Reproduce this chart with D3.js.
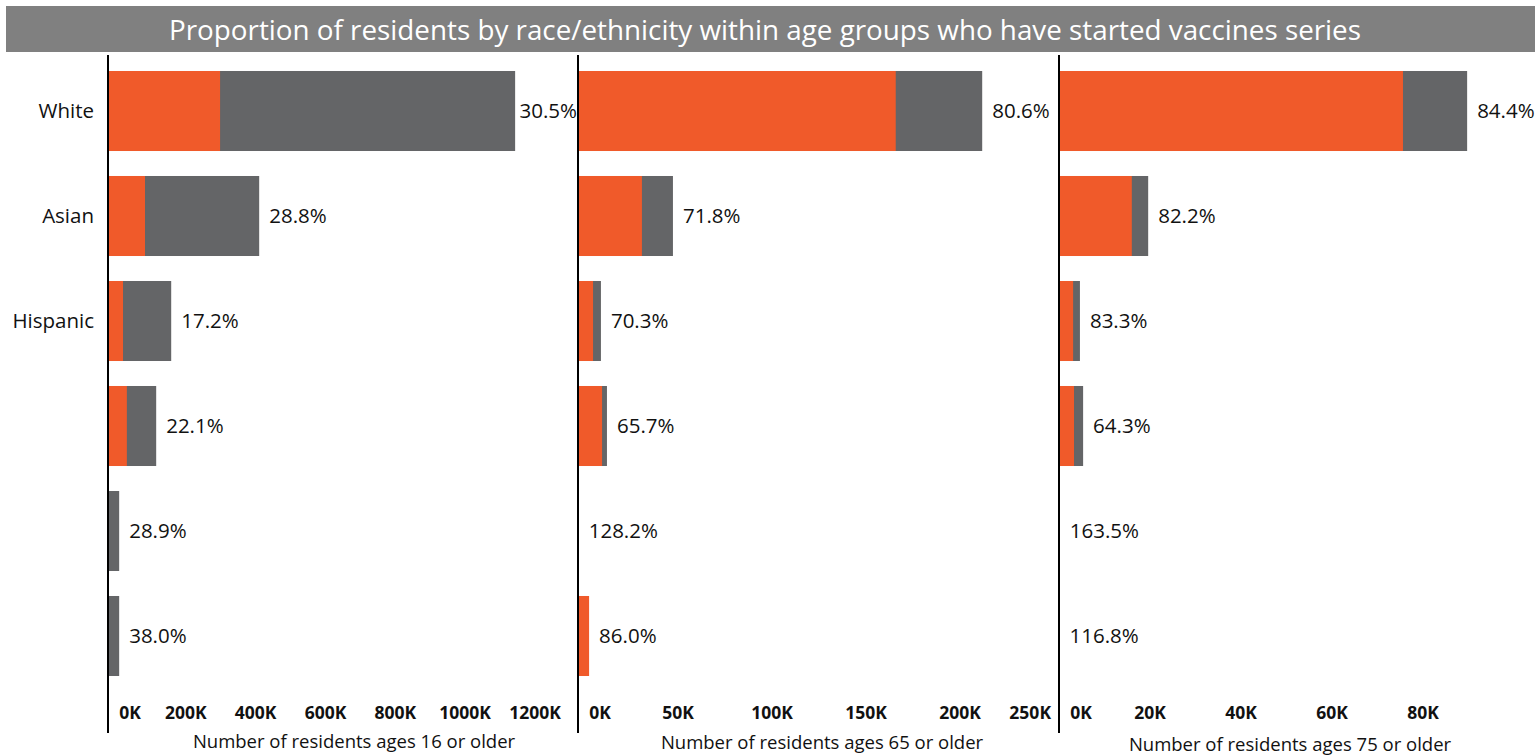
<!DOCTYPE html>
<html>
<head>
<meta charset="utf-8">
<script src="https://cdn.jsdelivr.net/npm/d3@7"></script>
<style>
  html, body { margin: 0; padding: 0; background: #fff; }
  svg { display: block; font-family: "Open Sans", Lato, sans-serif; }
</style>
</head>
<body>
<svg id="chart" width="1540" height="756"></svg>
<script>
// ---- data ----
const title = "Proportion of residents by race/ethnicity within age groups who have started vaccines series";
const categories = ["White", "Asian", "Hispanic", "", "", ""];

const panelTitles = [
  "Number of residents ages 16 or older",
  "Number of residents ages 65 or older",
  "Number of residents ages 75 or older"
];

// total residents (grey bars)
const total16 = [1166000, 433000, 181000, 138000, 32000, 32000];
const total65 = [215000, 50500, 12200, 15400, 300, 5000];
const total75 = [89700, 19600, 4600, 5300, 100, 100];

// residents who started the vaccine series (orange bars)
const started16 = [321000, 106000, 43000, 54000, 0, 0];
const started65 = [169000, 34000, 8000, 12800, 380, 5900];
const started75 = [75600, 16000, 3100, 3300, 160, 110];

// percentage labels
const pct16 = ["30.5%", "28.8%", "17.2%", "22.1%", "28.9%", "38.0%"];
const pct65 = ["80.6%", "71.8%", "70.3%", "65.7%", "128.2%", "86.0%"];
const pct75 = ["84.4%", "82.2%", "83.3%", "64.3%", "163.5%", "116.8%"];

// x-axis ticks
const ticks16 = [0, 200000, 400000, 600000, 800000, 1000000, 1200000];
const ticks65 = [0, 50000, 100000, 150000, 200000, 250000];
const ticks75 = [0, 20000, 40000, 60000, 80000];

const domains = [[0, 1200000], [0, 250000], [0, 100000]];

// ---- layout ----
const svg = d3.select("#chart");
const orange = "#F05A2A";
const grey = "#646567";

const panels = [
  {x0: 108, x1: 527,  tot: total16, st: started16, pct: pct16, ticks: ticks16, dom: domains[0], name: panelTitles[0], tdx: 8, next: 578, titleX: 354, titleY: 748},
  {x0: 578, x1: 1048, tot: total65, st: started65, pct: pct65, ticks: ticks65, dom: domains[1], name: panelTitles[1], tdx: 6, next: 1059, titleX: 822, titleY: 749},
  {x0: 1059, x1: 1514, tot: total75, st: started75, pct: pct75, ticks: ticks75, dom: domains[2], name: panelTitles[2], tdx: 0, next: 1536, titleX: 1290, titleY: 751}
];

const y = d3.scaleBand()
  .domain(d3.range(categories.length))
  .range([58.5, 688.5])
  .paddingInner(0.238)
  .paddingOuter(0.119);

// title bar
svg.append("rect")
  .attr("x", 6).attr("y", 6).attr("width", 1529).attr("height", 46)
  .attr("fill", "#808080");
svg.append("text")
  .attr("x", 765).attr("y", 40)
  .attr("text-anchor", "middle")
  .attr("fill", "#fff")
  .attr("font-size", 27.8)
  .text(title);

// category labels
svg.append("g").selectAll("text")
  .data(categories)
  .join("text")
  .attr("x", 94)
  .attr("y", (d, i) => y(i) + y.bandwidth() / 2)
  .attr("dy", "0.35em")
  .attr("text-anchor", "end")
  .attr("font-size", 20.5)
  .attr("fill", "#111")
  .text(d => d);

panels.forEach(p => {
  const x = d3.scaleLinear().domain(p.dom).range([p.x0, p.x1]);
  const g = svg.append("g");
  const rows = d3.range(categories.length);

  // grey bars (total residents)
  g.selectAll("rect.tot")
    .data(rows)
    .join("rect")
    .attr("class", "tot")
    .attr("x", x(0))
    .attr("y", i => y(i))
    .attr("width", i => x(p.tot[i]) - x(0))
    .attr("height", y.bandwidth())
    .attr("fill", grey);

  // orange bars (started series)
  g.selectAll("rect.st")
    .data(rows)
    .join("rect")
    .attr("class", "st")
    .attr("x", x(0))
    .attr("y", i => y(i))
    .attr("width", i => x(p.st[i]) - x(0))
    .attr("height", y.bandwidth())
    .attr("fill", orange);

  // percentage labels
  g.selectAll("text.pct")
    .data(rows)
    .join("text")
    .attr("class", "pct")
    .attr("y", i => y(i) + y.bandwidth() / 2)
    .attr("dy", "0.35em")
    .attr("font-size", 20.5)
    .attr("fill", "#111")
    .text(i => p.pct[i])
    .each(function (i) {
      const w = this.getComputedTextLength();
      const end = Math.max(x(p.tot[i]), x(p.st[i]));
      const lx = Math.min(end + 10, p.next - w - 1);
      d3.select(this).attr("x", lx);
    });

  // x axis tick labels
  g.selectAll("text.tick")
    .data(p.ticks)
    .join("text")
    .attr("class", "tick")
    .attr("y", 719)
    .attr("text-anchor", "middle")
    .attr("font-size", 17.5)
    .attr("font-weight", "bold")
    .attr("fill", "#111")
    .text(v => d3.format("d")(v / 1000) + "K")
    .each(function (v) {
      const w = this.getComputedTextLength();
      let lx = v === 0 ? x(0) + 22 : x(v) + p.tdx;
      lx = Math.min(lx, p.next - w / 2 - 8);
      d3.select(this).attr("x", lx);
    });

  // vertical axis line
  g.append("line")
    .attr("x1", x(0)).attr("x2", x(0))
    .attr("y1", 55).attr("y2", 733)
    .attr("stroke", "#000")
    .attr("stroke-width", 2);

  // axis title
  g.append("text")
    .attr("x", p.titleX)
    .attr("y", p.titleY)
    .attr("text-anchor", "middle")
    .attr("font-size", 18.5)
    .attr("fill", "#111")
    .text(p.name);
});
</script>
</body>
</html>
